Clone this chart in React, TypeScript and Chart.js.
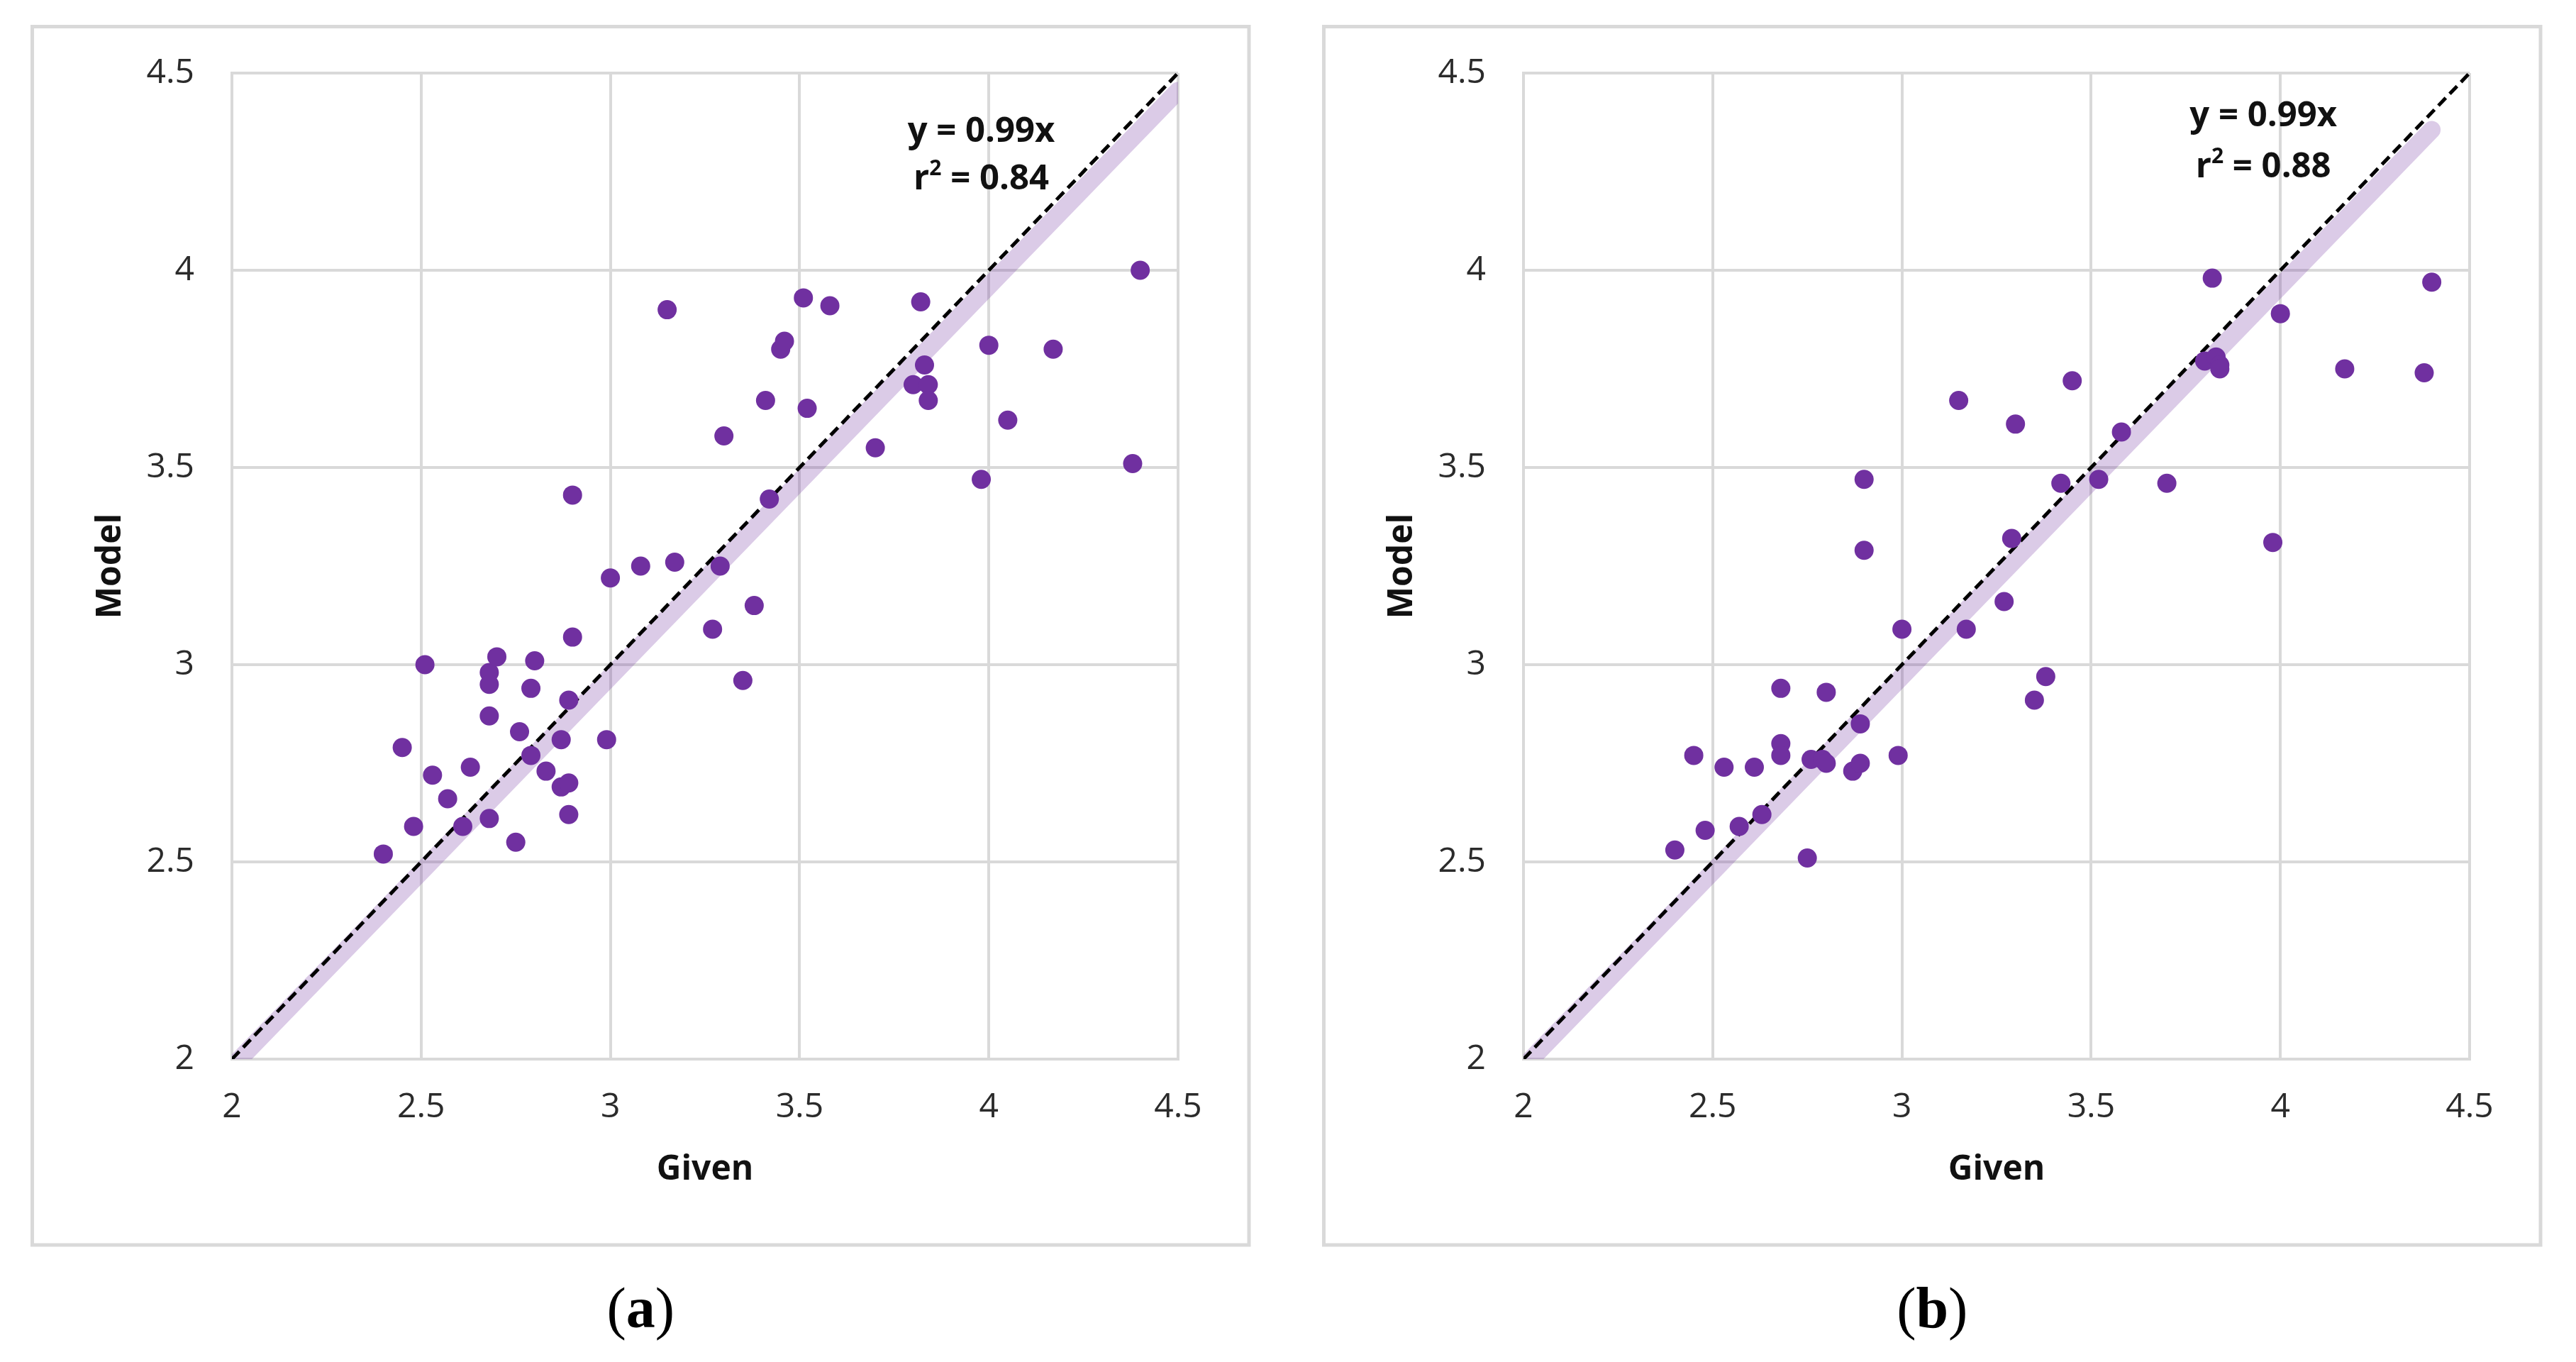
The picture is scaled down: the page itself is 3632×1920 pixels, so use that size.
import React, { useEffect, useRef } from 'react';
import { Chart, registerables } from 'chart.js';

Chart.register(...registerables);

// ---------- data ----------
const TICK_VALUES = [2, 2.5, 3, 3.5, 4, 4.5];
const TICK_LABELS = ['2', '2.5', '3', '3.5', '4', '4.5'];
const AXIS_RANGE = [2, 4.5];
const IDENTITY_LINE = [2, 4.5];

// Panel (a)
const GIVEN_A = [2.40, 2.45, 2.48, 2.51, 2.53, 2.57, 2.61, 2.63, 2.68, 2.68, 2.68, 2.68, 2.70, 2.75, 2.76, 2.79, 2.79, 2.80, 2.83, 2.87, 2.87, 2.89, 2.89, 2.89, 2.90, 2.90, 2.99, 3.00, 3.08, 3.15, 3.17, 3.27, 3.29, 3.30, 3.35, 3.38, 3.41, 3.42, 3.45, 3.46, 3.51, 3.52, 3.58, 3.70, 3.80, 3.82, 3.83, 3.84, 3.84, 3.98, 4.00, 4.05, 4.17, 4.38, 4.40];
const MODEL_A = [2.52, 2.79, 2.59, 3.00, 2.72, 2.66, 2.59, 2.74, 2.98, 2.95, 2.87, 2.61, 3.02, 2.55, 2.83, 2.94, 2.77, 3.01, 2.73, 2.81, 2.69, 2.91, 2.70, 2.62, 3.07, 3.43, 2.81, 3.22, 3.25, 3.90, 3.26, 3.09, 3.25, 3.58, 2.96, 3.15, 3.67, 3.42, 3.80, 3.82, 3.93, 3.65, 3.91, 3.55, 3.71, 3.92, 3.76, 3.71, 3.67, 3.47, 3.81, 3.62, 3.80, 3.51, 4.00];
const FIT_SLOPE_A = 0.99;
const FIT_RANGE_A = [2, 4.5];
const R2_A = '0.84';

// Panel (b)
const GIVEN_B = [2.40, 2.45, 2.48, 2.53, 2.57, 2.61, 2.63, 2.68, 2.68, 2.68, 2.75, 2.76, 2.79, 2.80, 2.80, 2.87, 2.89, 2.89, 2.90, 2.90, 2.99, 3.00, 3.15, 3.17, 3.27, 3.29, 3.30, 3.35, 3.38, 3.42, 3.45, 3.52, 3.58, 3.70, 3.80, 3.82, 3.83, 3.84, 3.84, 3.98, 4.00, 4.17, 4.38, 4.40];
const MODEL_B = [2.53, 2.77, 2.58, 2.74, 2.59, 2.74, 2.62, 2.94, 2.80, 2.77, 2.51, 2.76, 2.76, 2.93, 2.75, 2.73, 2.85, 2.75, 3.47, 3.29, 2.77, 3.09, 3.67, 3.09, 3.16, 3.32, 3.61, 2.91, 2.97, 3.46, 3.72, 3.47, 3.59, 3.46, 3.77, 3.98, 3.78, 3.76, 3.75, 3.31, 3.89, 3.75, 3.74, 3.97];
const FIT_SLOPE_B = 0.99;
const FIT_RANGE_B = [2, 4.4];
const R2_B = '0.88';

// ---------- layout / style ----------
const PAGE_W = 3632;
const PAGE_H = 1920;
const PLOT_LEFT = 327;
const PLOT_RIGHT = 1661;
const PLOT_TOP = 103;
const PLOT_BOTTOM = 1493;
const BOX = { x0: 45.5, y0: 37.5, x1: 1761, y1: 1755 };
const PURPLE = '#7030A0';
const GRID = '#d9d9d9';
const SANS = '"Open Sans", "DejaVu Sans", sans-serif';
const SERIF = '"Liberation Serif", "Times New Roman", serif';

type PanelProps = {
  offsetX: number;
  width: number;
  given: number[];
  model: number[];
  slope: number;
  fitRange: number[];
  r2: string;
  label: string;
  textX: number;
  textY1: number;
  textY2: number;
};

function Panel(props: PanelProps) {
  const ref = useRef<HTMLCanvasElement | null>(null);

  useEffect(() => {
    const canvas = ref.current;
    if (!canvas) return;
    const { given, model, slope, fitRange, r2, label, textX, textY1, textY2, width } = props;

    const points = given.map((g, i) => ({ x: g, y: model[i] }));
    const fit = fitRange.map((x) => ({ x, y: slope * x }));
    const ident = IDENTITY_LINE.map((v) => ({ x: v, y: v }));

    const panelPlugin = {
      id: 'panelDecor',
      beforeDraw(chart: any) {
        const ctx = chart.ctx;
        ctx.save();
        ctx.fillStyle = '#ffffff';
        ctx.fillRect(0, 0, chart.width, chart.height);
        ctx.strokeStyle = GRID;
        ctx.lineWidth = 5;
        ctx.strokeRect(BOX.x0, BOX.y0, BOX.x1 - BOX.x0, BOX.y1 - BOX.y0);
        ctx.restore();
      },
      afterDraw(chart: any) {
        const ctx = chart.ctx;
        const xs = chart.scales.x;
        const ys = chart.scales.y;
        const cx = xs.getPixelForValue(textX);
        const y1 = ys.getPixelForValue(textY1);
        const y2 = ys.getPixelForValue(textY2);
        ctx.save();
        ctx.fillStyle = '#111111';
        ctx.textBaseline = 'middle';
        ctx.textAlign = 'center';
        ctx.font = `bold 49px ${SANS}`;
        ctx.fillText(`y = ${slope}x`, cx, y1);
        // r² = ...
        const main = `bold 49px ${SANS}`;
        const sup = `bold 30px ${SANS}`;
        ctx.font = main;
        const wr = ctx.measureText('r').width;
        const wRest = ctx.measureText(` = ${r2}`).width;
        ctx.font = sup;
        const w2 = ctx.measureText('2').width;
        let sx = cx - (wr + w2 + wRest) / 2;
        ctx.textAlign = 'left';
        ctx.font = main;
        ctx.fillText('r', sx, y2);
        sx += wr;
        ctx.font = sup;
        ctx.fillText('2', sx, y2 - 15);
        sx += w2;
        ctx.font = main;
        ctx.fillText(` = ${r2}`, sx, y2);

        // caption "(a)"
        const capX = (BOX.x0 + BOX.x1) / 2;
        const capY = 1850;
        const reg = `82px ${SERIF}`;
        const bold = `bold 82px ${SERIF}`;
        ctx.fillStyle = '#000000';
        ctx.font = reg;
        const wp = ctx.measureText('(').width;
        const wq = ctx.measureText(')').width;
        ctx.font = bold;
        const wl = ctx.measureText(label).width;
        let px = capX - (wp + wl + wq) / 2;
        ctx.font = reg;
        ctx.fillText('(', px, capY);
        px += wp;
        ctx.font = bold;
        ctx.fillText(label, px, capY);
        px += wl;
        ctx.font = reg;
        ctx.fillText(')', px, capY);
        ctx.restore();
      },
    };

    const tickLabel = (v: any) => {
      const idx = TICK_VALUES.findIndex((t) => Math.abs(t - Number(v)) < 1e-9);
      return idx >= 0 ? TICK_LABELS[idx] : '';
    };

    const commonScale = (title: string, titlePadding: any, tickPadding: number) => ({
      type: 'linear' as const,
      min: AXIS_RANGE[0],
      max: AXIS_RANGE[1],
      afterBuildTicks: (s: any) => {
        s.ticks = TICK_VALUES.map((value) => ({ value }));
      },
      ticks: {
        callback: tickLabel,
        font: { family: SANS, size: 48 },
        color: '#2b2b2b',
        padding: tickPadding,
        autoSkip: false,
        maxRotation: 0,
        minRotation: 0,
      },
      grid: { color: GRID, lineWidth: 4, drawTicks: false },
      border: { display: true, color: GRID, width: 4 },
      title: {
        display: true,
        text: title,
        color: '#111111',
        font: { family: SANS, size: 48, weight: 'bold' as const },
        padding: titlePadding,
      },
    });

    const chart = new Chart(canvas, {
      type: 'scatter',
      data: {
        datasets: [
          {
            type: 'scatter',
            data: points,
            backgroundColor: PURPLE,
            borderWidth: 0,
            pointRadius: 13.5,
            pointHoverRadius: 13.5,
            order: 0,
          } as any,
          {
            type: 'line',
            data: ident,
            borderColor: '#000000',
            borderWidth: 5,
            borderDash: [15, 8],
            pointRadius: 0,
            fill: false,
            order: 1,
            clip: 0,
          } as any,
          {
            type: 'line',
            data: fit,
            borderColor: 'rgba(112,48,160,0.25)',
            borderWidth: 25,
            borderCapStyle: 'round',
            pointRadius: 0,
            fill: false,
            order: 2,
            clip: 0,
          } as any,
        ],
      },
      options: {
        animation: false,
        responsive: false,
        devicePixelRatio: 1,
        events: [],
        layout: {
          padding: {
            left: 48,
            top: PLOT_TOP,
            right: width - PLOT_RIGHT,
            bottom: PAGE_H - 1753,
          },
        },
        plugins: {
          legend: { display: false },
          tooltip: { enabled: false },
        },
        scales: {
          x: {
            ...commonScale('Given', { top: 0, bottom: 75 }, 40),
            position: 'bottom',
            afterFit: (s: any) => {
              s.height = 1753 - PLOT_BOTTOM;
            },
          } as any,
          y: {
            ...commonScale('Model', { top: 80, bottom: 0 }, 53),
            position: 'left',
            afterFit: (s: any) => {
              s.width = PLOT_LEFT - 48;
            },
          } as any,
        },
      },
      plugins: [panelPlugin],
    } as any);

    return () => {
      chart.destroy();
    };
  }, []);

  return (
    <canvas
      ref={ref}
      width={props.width}
      height={PAGE_H}
      style={{ position: 'absolute', left: props.offsetX, top: 0, width: props.width, height: PAGE_H, display: 'block' }}
    />
  );
}

export default function App() {
  return (
    <div
      style={{
        position: 'fixed',
        left: 0,
        top: 0,
        width: PAGE_W,
        height: PAGE_H,
        background: '#ffffff',
        overflow: 'hidden',
      }}
    >
      <Panel
        offsetX={0}
        width={1816}
        given={GIVEN_A}
        model={MODEL_A}
        slope={FIT_SLOPE_A}
        fitRange={FIT_RANGE_A}
        r2={R2_A}
        label="a"
        textX={3.98}
        textY1={4.35}
        textY2={4.23}
      />
      <Panel
        offsetX={1821}
        width={1811}
        given={GIVEN_B}
        model={MODEL_B}
        slope={FIT_SLOPE_B}
        fitRange={FIT_RANGE_B}
        r2={R2_B}
        label="b"
        textX={3.955}
        textY1={4.39}
        textY2={4.26}
      />
    </div>
  );
}
